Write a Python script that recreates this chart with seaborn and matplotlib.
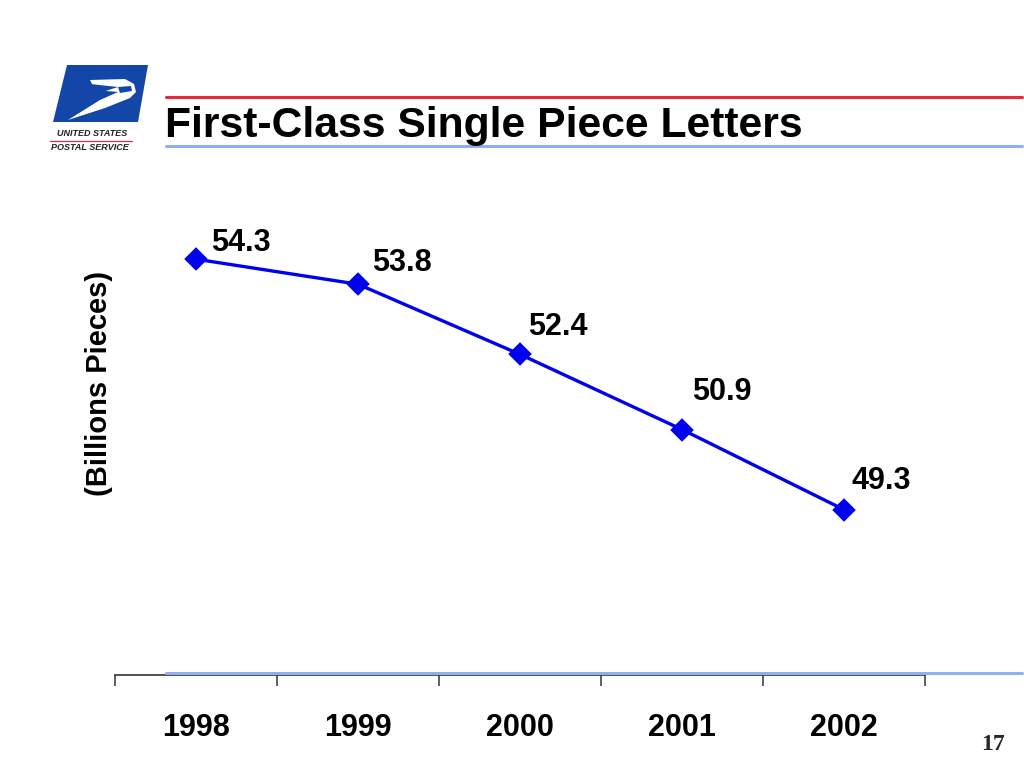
import matplotlib
matplotlib.use("Agg")
import matplotlib.pyplot as plt
from matplotlib.patches import Polygon
from matplotlib.lines import Line2D
import seaborn as sns
import pandas as pd

years = ["1998", "1999", "2000", "2001", "2002"]
volumes = [54.3, 53.8, 52.4, 50.9, 49.3]
value_labels = ["54.3", "53.8", "52.4", "50.9", "49.3"]
title_text = "First-Class Single Piece Letters"
ylabel_text = "(Billions Pieces)"
page_number = "17"

sns.set_theme(style="white")
plt.rcParams['font.family'] = ['Liberation Sans', 'DejaVu Sans']

W, H = 1024, 768
fig = plt.figure(figsize=(W / 100, H / 100), dpi=100)


def fx(x):
    return x / W


def fy(y):
    return 1 - y / H


# axes: left 115px, right 925px, bottom 675px, top ~174px
ax = fig.add_axes([fx(115), fy(675), (925 - 115) / W, (675 - 174) / H])
df = pd.DataFrame({"year": years, "volume": volumes})
sns.pointplot(data=df, x="year", y="volume", color="#0000F0", markers="D",
              linestyles="-", markersize=10, linewidth=2.4, ax=ax,
              errorbar=None)
ax.set_xlim(-0.5, len(years) - 0.5)
ax.set_ylim(46, 56)
ax.set_yticks([])
ax.set_xlabel("")
ax.set_ylabel("")
for s in ["left", "right", "top"]:
    ax.spines[s].set_visible(False)
ax.spines["bottom"].set_color("#333333")
ax.spines["bottom"].set_linewidth(1.2)
ax.set_xticks(range(len(years)))
ax.set_xticklabels(years, fontsize=22, fontweight="bold")
ax.set_xticks([i - 0.5 for i in range(len(years) + 1)], minor=True)
ax.tick_params(axis="x", which="major", length=0, pad=27, labelcolor="black")
ax.tick_params(axis="x", which="minor", length=8, width=1.1, color="#333333",
               direction="out", bottom=True)
ax.patch.set_alpha(0)

offsets = [(32, 12), (32, 15), (27, 20), (29, 27), (27, 21)]
for i, (v, lab) in enumerate(zip(volumes, value_labels)):
    ax.annotate(lab, (i, v), xytext=offsets[i], textcoords="offset points",
                ha="center", va="center", fontsize=22, fontweight="bold",
                color="black")

# Y label
fig.text(fx(99), fy(383), ylabel_text, rotation=90, ha="center", va="center",
         fontsize=21, fontweight="bold", color="black")

# Title and decorative lines
fig.add_artist(Line2D([fx(166), fx(1022)], [fy(97), fy(97)], color="#E8283C", lw=2.2))
fig.add_artist(Line2D([fx(166), fx(1022)], [fy(146), fy(146)], color="#8FB0F0", lw=2.2))
fig.text(fx(165), fy(126), title_text, ha="left", va="center",
         fontsize=30.7, fontweight="bold", color="black")

# bottom light-blue rule
fig.add_artist(Line2D([fx(166), fx(1022)], [fy(673), fy(673)], color="#8FB0F0", lw=2.2))

# page number
fig.text(fx(993), fy(745), page_number, ha="center", va="center", fontsize=17,
         fontweight="bold", family=["Liberation Serif", "DejaVu Serif"])

# Simplified USPS logo
def poly(points, color):
    fig.add_artist(Polygon([(fx(x), fy(y)) for x, y in points], closed=True,
                           facecolor=color, edgecolor="none",
                           transform=fig.transFigure))

poly([(67, 65), (148, 65), (138, 122), (53, 122)], "#1446A8")
poly([(90, 80), (125, 79), (134, 84), (136, 92), (130, 98), (105, 108),
      (68, 120), (100, 100), (118, 92), (95, 90)], "white")
poly([(90, 84), (118, 87), (93, 95)], "#1446A8")
poly([(118, 87), (131, 86), (132, 91), (120, 93)], "#1446A8")
fig.text(fx(92), fy(134), "UNITED STATES", ha="center", va="center",
         fontsize=6.5, fontweight="bold", style="italic", color="#222222")
fig.add_artist(Line2D([fx(50), fx(132)], [fy(141), fy(141)], color="#E8283C", lw=0.9))
fig.text(fx(90), fy(148), "POSTAL SERVICE", ha="center", va="center",
         fontsize=6.5, fontweight="bold", style="italic", color="#222222")

fig.savefig("out.png", dpi=100, facecolor="white")
